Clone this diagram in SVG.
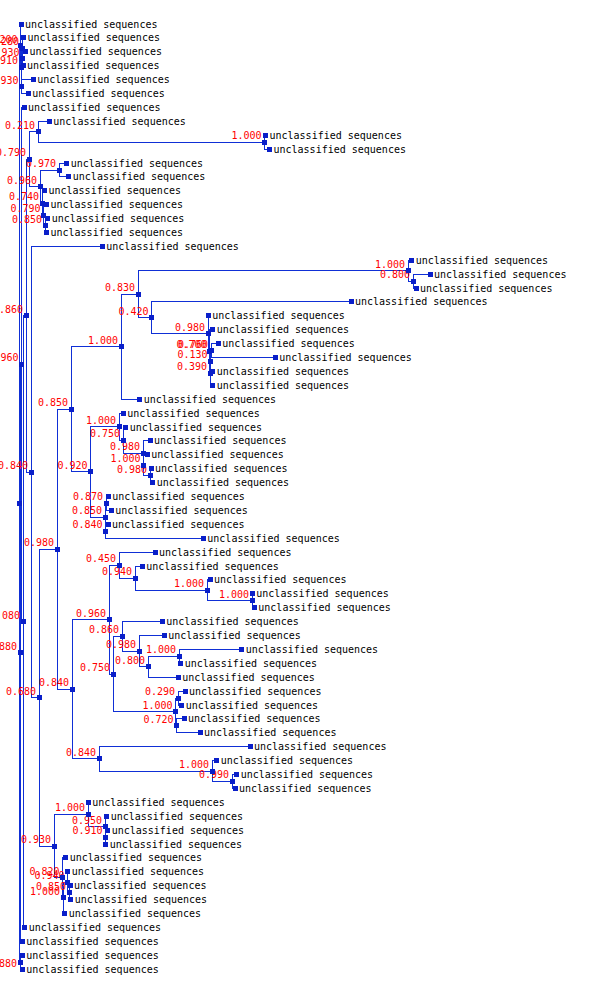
<svg xmlns="http://www.w3.org/2000/svg" width="600" height="1006" viewBox="0 0 600 1006">
<style>
.e{fill:none;stroke:#0f2fd6;stroke-width:1;shape-rendering:crispEdges}
.t{font-family:"DejaVu Sans Mono","Liberation Mono",monospace;font-size:10px;fill:#000}
.b{font-family:"DejaVu Sans Mono","Liberation Mono",monospace;font-size:10px;fill:#f00;text-anchor:end}
</style>
<defs><rect id="sq" x="-2.5" y="-2.5" width="5" height="5" fill="#0a1fc9" shape-rendering="crispEdges"/></defs>
<rect width="600" height="1006" fill="#fff"/>
<g id="connectors" class="e">
<path d="M25.5 51.8H22.5V65.7H23"/>
<path d="M23.5 37.9H22V58.75H22.5"/>
<path d="M33.3 79.6H21.5V93.5H28.3"/>
<path d="M22 48.3H21V86.55H21.5"/>
<path d="M21 24H20.5V67.4H21"/>
<path d="M20.5 45.7H19V962.15H20M19 652.9H20"/>
<path d="M265.5 135.2H264.5V149.1H269.5"/>
<path d="M49.3 121.3H38V142.15H264.5"/>
<path d="M66.7 163H59V176.9H68.8"/>
<path d="M47.8 218.6H45V232.5H46.5"/>
<path d="M46.5 204.7H43.5V225.55H45"/>
<path d="M44.5 190.8H42V215.1H43.5"/>
<path d="M59 170H40V203H42"/>
<path d="M38 131.7H29V186.5H40"/>
<path d="M430 274.1H413V288H416"/>
<path d="M411.7 260.2H408V281.05H413"/>
<path d="M218.3 343.6H211V357.5H275.3"/>
<path d="M211 350.55H210.5V371.4H212.7"/>
<path d="M210.5 361H210V385.3H212.7"/>
<path d="M212.7 329.7H209.5V373.15H210"/>
<path d="M208.3 315.8H208V351.4H209.5"/>
<path d="M351 301.9H151.5V333.6H208"/>
<path d="M408 270.6H138V317.75H151.5"/>
<path d="M138 294.2H121V399.2H139.7"/>
<path d="M151 468.7H150V482.6H152.7"/>
<path d="M147.3 454.8H143.5V475.65H150"/>
<path d="M150 440.9H143V465.2H143.5"/>
<path d="M125.7 427H123V453.05H143"/>
<path d="M123.3 413.1H119V440H123"/>
<path d="M108.3 496.5H106V510.4H111.3"/>
<path d="M108 524.3H105.5V538.2H203.3"/>
<path d="M106 503.45H105V531.25H105.5"/>
<path d="M119 426.55H90.5V517.35H105"/>
<path d="M121 346.7H71V471.95H90.5"/>
<path d="M252.3 593.8H252V607.7H254.3"/>
<path d="M210 579.9H207V600.75H252"/>
<path d="M142.3 566H135V590.3H207"/>
<path d="M155 552.1H119V578.15H135"/>
<path d="M241.7 649.4H179V663.3H180.7"/>
<path d="M179 656.35H148V677.2H178.3"/>
<path d="M164.3 635.5H139V666.8H148"/>
<path d="M162.3 621.6H122V651.15H139"/>
<path d="M185 691.1H178V705H181.7"/>
<path d="M184 718.9H176.5V732.8H200"/>
<path d="M178 698.05H175.5V725.85H176.5"/>
<path d="M122 636.4H113V711.95H175.5"/>
<path d="M119 565.1H109V674.2H113"/>
<path d="M236.7 774.5H232V788.4H235"/>
<path d="M216.7 760.6H212V781.45H232"/>
<path d="M250 746.7H99V771H212"/>
<path d="M109 619.65H72V758.85H99"/>
<path d="M71 409.3H57V689.25H72"/>
<path d="M107.7 830.1H105.5V844H105.7"/>
<path d="M106.7 816.2H105V837.05H105.5"/>
<path d="M88.3 802.3H88V826.6H105"/>
<path d="M70 885.7H69V899.6H70.7"/>
<path d="M67.7 871.8H67.5V892.65H69"/>
<path d="M67.5 882.2H63V913.5H64.7"/>
<path d="M65.7 857.9H62.5V897.85H63"/>
<path d="M88 814.45H54V877.9H62.5"/>
<path d="M57 549.3H39V846.2H54"/>
<path d="M102.3 246.4H31V697.75H39"/>
<path d="M29 159.1H26V472.1H31"/>
<path d="M26 315.6H23V927.4H24.7"/>
<path d="M24 107.4H21.5V621.5H23"/>
<path d="M21.5 364.45H20V941.3H22.3"/>
<path d="M22.3 955.2H20V969.1H22.3"/>
</g>
<g id="internal-nodes">
<g id="root"><use href="#sq" x="19" y="503.9"/></g>
<g id="nA2"><use href="#sq" x="20.5" y="45.7"/><text class="b" x="17.5" y="42.7">0.200</text></g>
<g id="nA1"><use href="#sq" x="22" y="48.3"/><text class="b" x="19" y="45.3">0.280</text></g>
<g id="nC"><use href="#sq" x="22.5" y="58.75"/><text class="b" x="19.5" y="55.75">0.930</text></g>
<g id="nD"><use href="#sq" x="21" y="67.4"/><text class="b" x="18" y="64.4">0.910</text></g>
<g id="nE"><use href="#sq" x="21.5" y="86.55"/><text class="b" x="18.5" y="83.55">0.930</text></g>
<g id="n1000L9"><use href="#sq" x="264.5" y="142.15"/><text class="b" x="261.5" y="139.15">1.000</text></g>
<g id="n210"><use href="#sq" x="38" y="131.7"/><text class="b" x="35" y="128.7">0.210</text></g>
<g id="n970"><use href="#sq" x="59" y="170"/><text class="b" x="56" y="167">0.970</text></g>
<g id="n850a"><use href="#sq" x="45" y="225.55"/><text class="b" x="42" y="222.55">0.850</text></g>
<g id="n790b"><use href="#sq" x="43.5" y="215.1"/><text class="b" x="40.5" y="212.1">0.790</text></g>
<g id="n740"><use href="#sq" x="42" y="203"/><text class="b" x="39" y="200">0.740</text></g>
<g id="n960a"><use href="#sq" x="40" y="186.5"/><text class="b" x="37" y="183.5">0.960</text></g>
<g id="n790"><use href="#sq" x="29" y="159.1"/><text class="b" x="26" y="156.1">0.790</text></g>
<g id="n800a"><use href="#sq" x="413" y="281.05"/><text class="b" x="410" y="278.05">0.800</text></g>
<g id="n1000b"><use href="#sq" x="408" y="270.6"/><text class="b" x="405" y="267.6">1.000</text></g>
<g id="n760"><use href="#sq" x="211" y="350.55"/><text class="b" x="208" y="347.55">0.760</text></g>
<g id="n130"><use href="#sq" x="210.5" y="361"/><text class="b" x="207.5" y="358">0.130</text></g>
<g id="n390"><use href="#sq" x="210" y="373.15"/><text class="b" x="207" y="370.15">0.390</text></g>
<g id="n700"><use href="#sq" x="209.5" y="351.4"/><text class="b" x="206.5" y="348.4">0.700</text></g>
<g id="n980b"><use href="#sq" x="208" y="333.6"/><text class="b" x="205" y="330.6">0.980</text></g>
<g id="n420"><use href="#sq" x="151.5" y="317.75"/><text class="b" x="148.5" y="314.75">0.420</text></g>
<g id="n830"><use href="#sq" x="138" y="294.2"/><text class="b" x="135" y="291.2">0.830</text></g>
<g id="n1000a"><use href="#sq" x="121" y="346.7"/><text class="b" x="118" y="343.7">1.000</text></g>
<g id="n980d"><use href="#sq" x="150" y="475.65"/><text class="b" x="147" y="472.65">0.980</text></g>
<g id="n1000d"><use href="#sq" x="143.5" y="465.2"/><text class="b" x="140.5" y="462.2">1.000</text></g>
<g id="n980c"><use href="#sq" x="143" y="453.05"/><text class="b" x="140" y="450.05">0.980</text></g>
<g id="n750"><use href="#sq" x="123" y="440"/><text class="b" x="120" y="437">0.750</text></g>
<g id="n1000c"><use href="#sq" x="119" y="426.55"/><text class="b" x="116" y="423.55">1.000</text></g>
<g id="n870"><use href="#sq" x="106" y="503.45"/><text class="b" x="103" y="500.45">0.870</text></g>
<g id="n840c"><use href="#sq" x="105.5" y="531.25"/><text class="b" x="102.5" y="528.25">0.840</text></g>
<g id="n850c"><use href="#sq" x="105" y="517.35"/><text class="b" x="102" y="514.35">0.850</text></g>
<g id="n920"><use href="#sq" x="90.5" y="471.95"/><text class="b" x="87.5" y="468.95">0.920</text></g>
<g id="n850"><use href="#sq" x="71" y="409.3"/><text class="b" x="68" y="406.3">0.850</text></g>
<g id="n1000f"><use href="#sq" x="252" y="600.75"/><text class="b" x="249" y="597.75">1.000</text></g>
<g id="n1000e"><use href="#sq" x="207" y="590.3"/><text class="b" x="204" y="587.3">1.000</text></g>
<g id="n940"><use href="#sq" x="135" y="578.15"/><text class="b" x="132" y="575.15">0.940</text></g>
<g id="n450"><use href="#sq" x="119" y="565.1"/><text class="b" x="116" y="562.1">0.450</text></g>
<g id="n1000g"><use href="#sq" x="179" y="656.35"/><text class="b" x="176" y="653.35">1.000</text></g>
<g id="n800b"><use href="#sq" x="148" y="666.8"/><text class="b" x="145" y="663.8">0.800</text></g>
<g id="n980e"><use href="#sq" x="139" y="651.15"/><text class="b" x="136" y="648.15">0.980</text></g>
<g id="n860b"><use href="#sq" x="122" y="636.4"/><text class="b" x="119" y="633.4">0.860</text></g>
<g id="n290"><use href="#sq" x="178" y="698.05"/><text class="b" x="175" y="695.05">0.290</text></g>
<g id="n720"><use href="#sq" x="176.5" y="725.85"/><text class="b" x="173.5" y="722.85">0.720</text></g>
<g id="n1000h"><use href="#sq" x="175.5" y="711.95"/><text class="b" x="172.5" y="708.95">1.000</text></g>
<g id="n750b"><use href="#sq" x="113" y="674.2"/><text class="b" x="110" y="671.2">0.750</text></g>
<g id="n960b"><use href="#sq" x="109" y="619.65"/><text class="b" x="106" y="616.65">0.960</text></g>
<g id="n990"><use href="#sq" x="232" y="781.45"/><text class="b" x="229" y="778.45">0.990</text></g>
<g id="n1000i"><use href="#sq" x="212" y="771"/><text class="b" x="209" y="768">1.000</text></g>
<g id="n840d"><use href="#sq" x="99" y="758.85"/><text class="b" x="96" y="755.85">0.840</text></g>
<g id="n840b"><use href="#sq" x="72" y="689.25"/><text class="b" x="69" y="686.25">0.840</text></g>
<g id="n980"><use href="#sq" x="57" y="549.3"/><text class="b" x="54" y="546.3">0.980</text></g>
<g id="n910"><use href="#sq" x="105.5" y="837.05"/><text class="b" x="102.5" y="834.05">0.910</text></g>
<g id="n950"><use href="#sq" x="105" y="826.6"/><text class="b" x="102" y="823.6">0.950</text></g>
<g id="n1000j"><use href="#sq" x="88" y="814.45"/><text class="b" x="85" y="811.45">1.000</text></g>
<g id="n850e"><use href="#sq" x="69" y="892.65"/><text class="b" x="66" y="889.65">0.850</text></g>
<g id="n940b"><use href="#sq" x="67.5" y="882.2"/><text class="b" x="64.5" y="879.2">0.940</text></g>
<g id="n1000k"><use href="#sq" x="63" y="897.85"/><text class="b" x="60" y="894.85">1.000</text></g>
<g id="n820"><use href="#sq" x="62.5" y="877.9"/><text class="b" x="59.5" y="874.9">0.820</text></g>
<g id="n930"><use href="#sq" x="54" y="846.2"/><text class="b" x="51" y="843.2">0.930</text></g>
<g id="n680"><use href="#sq" x="39" y="697.75"/><text class="b" x="36" y="694.75">0.680</text></g>
<g id="n840"><use href="#sq" x="31" y="472.1"/><text class="b" x="28" y="469.1">0.840</text></g>
<g id="n860"><use href="#sq" x="26" y="315.6"/><text class="b" x="23" y="312.6">0.860</text></g>
<g id="n080"><use href="#sq" x="23" y="621.5"/><text class="b" x="20" y="618.5">0.080</text></g>
<g id="n960g"><use href="#sq" x="21.5" y="364.45"/><text class="b" x="18.5" y="361.45">0.960</text></g>
<g id="n880mid"><use href="#sq" x="20" y="652.9"/><text class="b" x="17" y="649.9">0.880</text></g>
<g id="n880bot"><use href="#sq" x="20" y="962.15"/><text class="b" x="17" y="967">0.880</text></g>
</g>
<g id="leaves">
<g id="leaf1"><use href="#sq" x="21" y="24"/><text class="t" x="25" y="27.5">unclassified sequences</text></g>
<g id="leaf2"><use href="#sq" x="23.5" y="37.9"/><text class="t" x="27.5" y="41.4">unclassified sequences</text></g>
<g id="leaf3"><use href="#sq" x="25.5" y="51.8"/><text class="t" x="29.5" y="55.3">unclassified sequences</text></g>
<g id="leaf4"><use href="#sq" x="23" y="65.7"/><text class="t" x="27" y="69.2">unclassified sequences</text></g>
<g id="leaf5"><use href="#sq" x="33.3" y="79.6"/><text class="t" x="37.3" y="83.1">unclassified sequences</text></g>
<g id="leaf6"><use href="#sq" x="28.3" y="93.5"/><text class="t" x="32.3" y="97">unclassified sequences</text></g>
<g id="leaf7"><use href="#sq" x="24" y="107.4"/><text class="t" x="28" y="110.9">unclassified sequences</text></g>
<g id="leaf8"><use href="#sq" x="49.3" y="121.3"/><text class="t" x="53.3" y="124.8">unclassified sequences</text></g>
<g id="leaf9"><use href="#sq" x="265.5" y="135.2"/><text class="t" x="269.5" y="138.7">unclassified sequences</text></g>
<g id="leaf10"><use href="#sq" x="269.5" y="149.1"/><text class="t" x="273.5" y="152.6">unclassified sequences</text></g>
<g id="leaf11"><use href="#sq" x="66.7" y="163"/><text class="t" x="70.7" y="166.5">unclassified sequences</text></g>
<g id="leaf12"><use href="#sq" x="68.8" y="176.9"/><text class="t" x="72.8" y="180.4">unclassified sequences</text></g>
<g id="leaf13"><use href="#sq" x="44.5" y="190.8"/><text class="t" x="48.5" y="194.3">unclassified sequences</text></g>
<g id="leaf14"><use href="#sq" x="46.5" y="204.7"/><text class="t" x="50.5" y="208.2">unclassified sequences</text></g>
<g id="leaf15"><use href="#sq" x="47.8" y="218.6"/><text class="t" x="51.8" y="222.1">unclassified sequences</text></g>
<g id="leaf16"><use href="#sq" x="46.5" y="232.5"/><text class="t" x="50.5" y="236">unclassified sequences</text></g>
<g id="leaf17"><use href="#sq" x="102.3" y="246.4"/><text class="t" x="106.3" y="249.9">unclassified sequences</text></g>
<g id="leaf18"><use href="#sq" x="411.7" y="260.2"/><text class="t" x="415.7" y="263.7">unclassified sequences</text></g>
<g id="leaf19"><use href="#sq" x="430" y="274.1"/><text class="t" x="434" y="277.6">unclassified sequences</text></g>
<g id="leaf20"><use href="#sq" x="416" y="288"/><text class="t" x="420" y="291.5">unclassified sequences</text></g>
<g id="leaf21"><use href="#sq" x="351" y="301.9"/><text class="t" x="355" y="305.4">unclassified sequences</text></g>
<g id="leaf22"><use href="#sq" x="208.3" y="315.8"/><text class="t" x="212.3" y="319.3">unclassified sequences</text></g>
<g id="leaf23"><use href="#sq" x="212.7" y="329.7"/><text class="t" x="216.7" y="333.2">unclassified sequences</text></g>
<g id="leaf24"><use href="#sq" x="218.3" y="343.6"/><text class="t" x="222.3" y="347.1">unclassified sequences</text></g>
<g id="leaf25"><use href="#sq" x="275.3" y="357.5"/><text class="t" x="279.3" y="361">unclassified sequences</text></g>
<g id="leaf26"><use href="#sq" x="212.7" y="371.4"/><text class="t" x="216.7" y="374.9">unclassified sequences</text></g>
<g id="leaf27"><use href="#sq" x="212.7" y="385.3"/><text class="t" x="216.7" y="388.8">unclassified sequences</text></g>
<g id="leaf28"><use href="#sq" x="139.7" y="399.2"/><text class="t" x="143.7" y="402.7">unclassified sequences</text></g>
<g id="leaf29"><use href="#sq" x="123.3" y="413.1"/><text class="t" x="127.3" y="416.6">unclassified sequences</text></g>
<g id="leaf30"><use href="#sq" x="125.7" y="427"/><text class="t" x="129.7" y="430.5">unclassified sequences</text></g>
<g id="leaf31"><use href="#sq" x="150" y="440.9"/><text class="t" x="154" y="444.4">unclassified sequences</text></g>
<g id="leaf32"><use href="#sq" x="147.3" y="454.8"/><text class="t" x="151.3" y="458.3">unclassified sequences</text></g>
<g id="leaf33"><use href="#sq" x="151" y="468.7"/><text class="t" x="155" y="472.2">unclassified sequences</text></g>
<g id="leaf34"><use href="#sq" x="152.7" y="482.6"/><text class="t" x="156.7" y="486.1">unclassified sequences</text></g>
<g id="leaf35"><use href="#sq" x="108.3" y="496.5"/><text class="t" x="112.3" y="500">unclassified sequences</text></g>
<g id="leaf36"><use href="#sq" x="111.3" y="510.4"/><text class="t" x="115.3" y="513.9">unclassified sequences</text></g>
<g id="leaf37"><use href="#sq" x="108" y="524.3"/><text class="t" x="112" y="527.8">unclassified sequences</text></g>
<g id="leaf38"><use href="#sq" x="203.3" y="538.2"/><text class="t" x="207.3" y="541.7">unclassified sequences</text></g>
<g id="leaf39"><use href="#sq" x="155" y="552.1"/><text class="t" x="159" y="555.6">unclassified sequences</text></g>
<g id="leaf40"><use href="#sq" x="142.3" y="566"/><text class="t" x="146.3" y="569.5">unclassified sequences</text></g>
<g id="leaf41"><use href="#sq" x="210" y="579.9"/><text class="t" x="214" y="583.4">unclassified sequences</text></g>
<g id="leaf42"><use href="#sq" x="252.3" y="593.8"/><text class="t" x="256.3" y="597.3">unclassified sequences</text></g>
<g id="leaf43"><use href="#sq" x="254.3" y="607.7"/><text class="t" x="258.3" y="611.2">unclassified sequences</text></g>
<g id="leaf44"><use href="#sq" x="162.3" y="621.6"/><text class="t" x="166.3" y="625.1">unclassified sequences</text></g>
<g id="leaf45"><use href="#sq" x="164.3" y="635.5"/><text class="t" x="168.3" y="639">unclassified sequences</text></g>
<g id="leaf46"><use href="#sq" x="241.7" y="649.4"/><text class="t" x="245.7" y="652.9">unclassified sequences</text></g>
<g id="leaf47"><use href="#sq" x="180.7" y="663.3"/><text class="t" x="184.7" y="666.8">unclassified sequences</text></g>
<g id="leaf48"><use href="#sq" x="178.3" y="677.2"/><text class="t" x="182.3" y="680.7">unclassified sequences</text></g>
<g id="leaf49"><use href="#sq" x="185" y="691.1"/><text class="t" x="189" y="694.6">unclassified sequences</text></g>
<g id="leaf50"><use href="#sq" x="181.7" y="705"/><text class="t" x="185.7" y="708.5">unclassified sequences</text></g>
<g id="leaf51"><use href="#sq" x="184" y="718.9"/><text class="t" x="188" y="722.4">unclassified sequences</text></g>
<g id="leaf52"><use href="#sq" x="200" y="732.8"/><text class="t" x="204" y="736.3">unclassified sequences</text></g>
<g id="leaf53"><use href="#sq" x="250" y="746.7"/><text class="t" x="254" y="750.2">unclassified sequences</text></g>
<g id="leaf54"><use href="#sq" x="216.7" y="760.6"/><text class="t" x="220.7" y="764.1">unclassified sequences</text></g>
<g id="leaf55"><use href="#sq" x="236.7" y="774.5"/><text class="t" x="240.7" y="778">unclassified sequences</text></g>
<g id="leaf56"><use href="#sq" x="235" y="788.4"/><text class="t" x="239" y="791.9">unclassified sequences</text></g>
<g id="leaf57"><use href="#sq" x="88.3" y="802.3"/><text class="t" x="92.3" y="805.8">unclassified sequences</text></g>
<g id="leaf58"><use href="#sq" x="106.7" y="816.2"/><text class="t" x="110.7" y="819.7">unclassified sequences</text></g>
<g id="leaf59"><use href="#sq" x="107.7" y="830.1"/><text class="t" x="111.7" y="833.6">unclassified sequences</text></g>
<g id="leaf60"><use href="#sq" x="105.7" y="844"/><text class="t" x="109.7" y="847.5">unclassified sequences</text></g>
<g id="leaf61"><use href="#sq" x="65.7" y="857.9"/><text class="t" x="69.7" y="861.4">unclassified sequences</text></g>
<g id="leaf62"><use href="#sq" x="67.7" y="871.8"/><text class="t" x="71.7" y="875.3">unclassified sequences</text></g>
<g id="leaf63"><use href="#sq" x="70" y="885.7"/><text class="t" x="74" y="889.2">unclassified sequences</text></g>
<g id="leaf64"><use href="#sq" x="70.7" y="899.6"/><text class="t" x="74.7" y="903.1">unclassified sequences</text></g>
<g id="leaf65"><use href="#sq" x="64.7" y="913.5"/><text class="t" x="68.7" y="917">unclassified sequences</text></g>
<g id="leaf66"><use href="#sq" x="24.7" y="927.4"/><text class="t" x="28.7" y="930.9">unclassified sequences</text></g>
<g id="leaf67"><use href="#sq" x="22.3" y="941.3"/><text class="t" x="26.3" y="944.8">unclassified sequences</text></g>
<g id="leaf68"><use href="#sq" x="22.3" y="955.2"/><text class="t" x="26.3" y="958.7">unclassified sequences</text></g>
<g id="leaf69"><use href="#sq" x="22.3" y="969.1"/><text class="t" x="26.3" y="972.6">unclassified sequences</text></g>
</g>
</svg>
